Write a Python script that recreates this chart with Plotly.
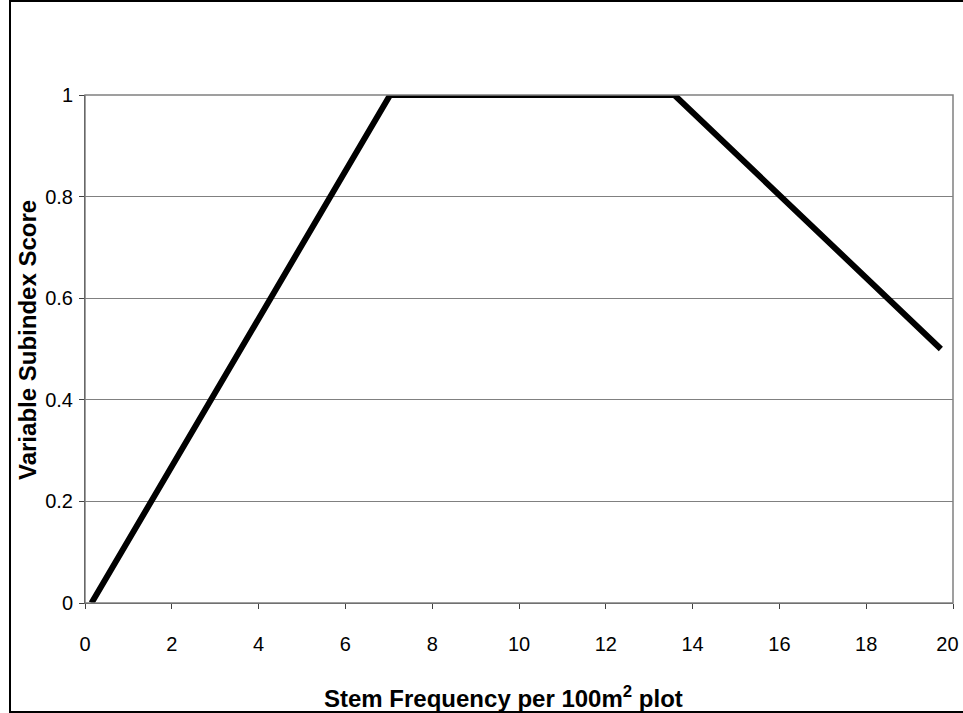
import plotly.graph_objects as go

stem_freq = [0.15, 7.03, 13.58, 19.72]
subindex = [0.0, 1.0, 1.0, 0.5]
x_ticks = [0, 2, 4, 6, 8, 10, 12, 14, 16, 18, 20]
# last label nudged left so it stays inside the window, as in the original
x_tick_text = ["0", "2", "4", "6", "8", "10", "12", "14", "16", "18", "20\u00a0\u00a0"]
y_ticks = [0, 0.2, 0.4, 0.6, 0.8, 1]
y_tick_text = ["0", "0.2", "0.4", "0.6", "0.8", "1"]

# plot area in pixels: x 85..953, y 95..603
PW, PH = 868, 508

fig = go.Figure()
fig.add_scatter(x=stem_freq, y=subindex, mode="lines",
                line=dict(color="black", width=6), showlegend=False)

fig.update_layout(
    width=963, height=713,
    margin=dict(l=85, r=10, t=95, b=110),
    plot_bgcolor="white", paper_bgcolor="white",
    font=dict(family="Liberation Sans, Arial, sans-serif", size=20, color="black"),
    shapes=[
        # outer chart frame
        dict(type="rect", xref="paper", yref="paper",
             x0=-75 / PW, x1=885 / PW, y0=-109 / PH, y1=602 / PH,
             line=dict(color="black", width=2), layer="below"),
        # plot area border
        dict(type="rect", xref="paper", yref="paper", x0=0, x1=1, y0=0, y1=1,
             line=dict(color="#808080", width=1.5)),
    ],
    annotations=[
        dict(text="<b>Stem Frequency per 100m<sup>2</sup> plot</b>", xref="paper", yref="paper",
             x=(503 - 85) / PW, y=-94 / PH, xanchor="center", yanchor="middle",
             showarrow=False, font=dict(size=24)),
        dict(text="<b>Variable Subindex Score</b>", xref="paper", yref="paper",
             x=-58 / PW, y=(603 - 340) / PH, xanchor="center", yanchor="middle",
             textangle=-90, showarrow=False, font=dict(size=24)),
    ],
)
fig.update_xaxes(
    range=[0, 20], tickvals=x_ticks, ticktext=x_tick_text,
    ticks="outside", ticklen=5, tickcolor="#404040",
    showgrid=False, showline=True, linecolor="#404040", zeroline=False,
    ticklabelstandoff=18, ticklabeloverflow="allow", automargin=False,
)
fig.update_yaxes(
    range=[0, 1], tickvals=y_ticks, ticktext=y_tick_text,
    ticks="outside", ticklen=5, tickcolor="#404040",
    showgrid=True, gridcolor="#808080", gridwidth=1,
    showline=True, linecolor="#202020", zeroline=False,
    ticklabelstandoff=2, automargin=False,
)

fig.write_html("out.html", config={"displayModeBar": False},
               post_script="document.body.style.margin='0';document.body.style.overflow='hidden';")
